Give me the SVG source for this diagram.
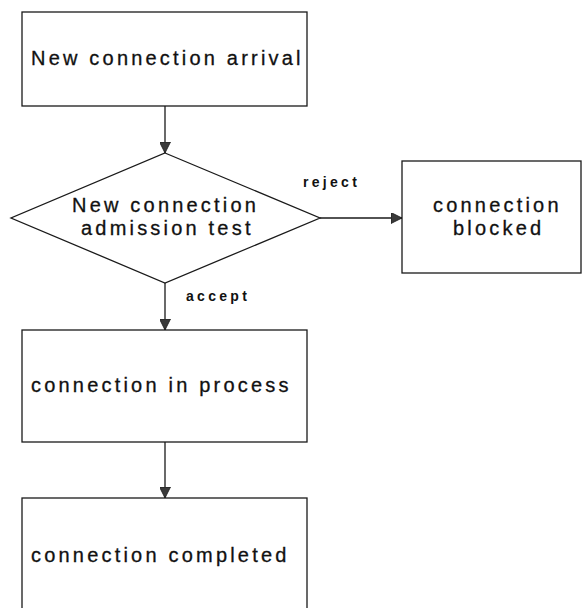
<svg xmlns="http://www.w3.org/2000/svg" width="582" height="608" viewBox="0 0 582 608">
  <style>
    .shape { fill: #ffffff; stroke: #1a1a1a; stroke-width: 1.3; }
    .link { stroke: #1a1a1a; stroke-width: 1.3; fill: none; }
    .label { font-family: "Liberation Sans", Arial, sans-serif; font-size: 20px; letter-spacing: 3.2px; fill: #111; stroke: #111; stroke-width: 0.3; }
    .tag { font-family: "Liberation Sans", Arial, sans-serif; font-size: 14px; font-weight: bold; letter-spacing: 3.3px; fill: #111; }
  </style>
  <defs>
    <marker id="arrow" markerWidth="11" markerHeight="11" refX="11" refY="5.5" orient="auto" markerUnits="userSpaceOnUse">
      <path d="M0,0 L11,5.5 L0,11 Z" fill="#3a3a3a" stroke="#1a1a1a" stroke-width="0.8"/>
    </marker>
  </defs>
  <rect width="582" height="608" fill="#ffffff"/>

  <g id="connectors">
    <line class="link" x1="165" y1="106" x2="165" y2="153" marker-end="url(#arrow)"/>
    <line class="link" x1="320" y1="218" x2="402" y2="218" marker-end="url(#arrow)"/>
    <line class="link" x1="165" y1="283" x2="165" y2="330" marker-end="url(#arrow)"/>
    <line class="link" x1="165" y1="442" x2="165" y2="498" marker-end="url(#arrow)"/>
    <text class="tag" x="303" y="187">reject</text>
    <text class="tag" x="186" y="301">accept</text>
  </g>

  <g id="arrival">
    <rect class="shape" x="22" y="12" width="285" height="94"/>
    <text class="label" x="31" y="65">New connection arrival</text>
  </g>

  <g id="admission-test">
    <polygon class="shape" points="165,153 320,218 165,283 11,218"/>
    <text class="label" x="72" y="212">New connection</text>
    <text class="label" x="81" y="235">admission test</text>
  </g>

  <g id="blocked">
    <rect class="shape" x="402" y="161" width="179" height="112"/>
    <text class="label" x="433" y="212">connection</text>
    <text class="label" x="453" y="235">blocked</text>
  </g>

  <g id="in-process">
    <rect class="shape" x="22" y="330" width="285" height="112"/>
    <text class="label" x="31" y="392">connection in process</text>
  </g>

  <g id="completed">
    <rect class="shape" x="22" y="498" width="285" height="130"/>
    <text class="label" x="31" y="562">connection completed</text>
  </g>
</svg>
